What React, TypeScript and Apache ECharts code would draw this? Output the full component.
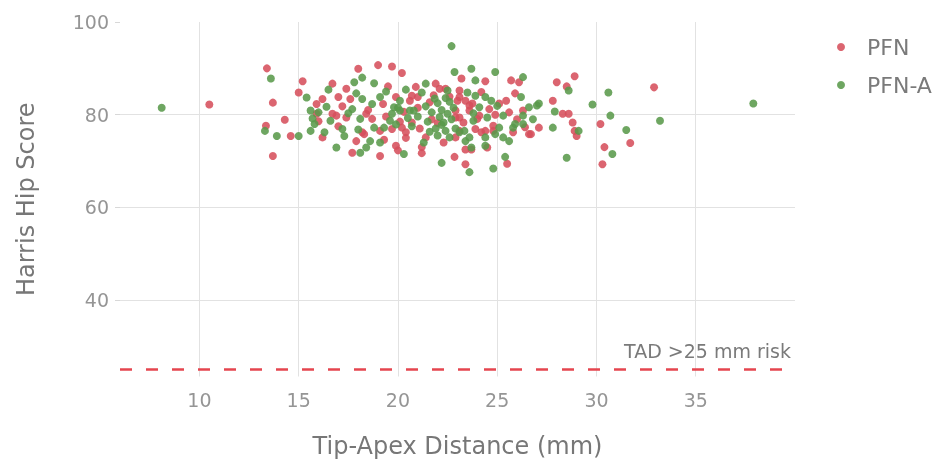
import React, { useEffect, useRef } from "react";
import * as echarts from "echarts";

const seriesNames = ["PFN", "PFN-A"];
const xAxisName = "Tip-Apex Distance (mm)";
const yAxisName = "Harris Hip Score";
const xTickValues = [10, 15, 20, 25, 30, 35];
const yTickValues = [40, 60, 80, 100];
const riskThreshold = 25;
const riskLabel = "TAD >25 mm risk";

const pfnPoints: [number, number][] = [
  [10.5, 82.2], [13.4, 90.0], [13.7, 82.6], [13.35, 77.6], [14.6, 75.4], [14.3, 78.9],
  [13.7, 71.1], [15.2, 87.2], [15.0, 84.8], [16.7, 86.7], [17.4, 85.6], [19.5, 86.1],
  [16.2, 83.4], [17.0, 83.8], [17.6, 83.4], [18.4, 80.2], [18.7, 79.1], [19.25, 82.3],
  [17.4, 79.4], [16.2, 75.1], [18.3, 75.8], [19.7, 76.9], [19.9, 83.8], [20.3, 80.6],
  [20.1, 78.5], [20.4, 76.2], [20.4, 75.0], [21.4, 75.1], [21.9, 86.7], [21.0, 83.8],
  [22.4, 85.6], [23.1, 85.2], [23.0, 83.0], [23.4, 83.0], [23.75, 82.4], [23.6, 80.9],
  [25.1, 82.4], [25.45, 83.0], [25.6, 80.5], [23.1, 79.4], [24.1, 79.8], [22.9, 75.1],
  [23.9, 76.9], [24.2, 76.2], [24.5, 72.9], [23.4, 72.5], [26.6, 75.8], [22.9, 80.9],
  [24.8, 77.6], [25.8, 76.2], [19.0, 90.7], [19.7, 90.4], [20.2, 89.0], [18.0, 89.9],
  [23.2, 87.8], [24.4, 87.2], [25.7, 87.4], [26.1, 87.0], [28.0, 87.0], [28.9, 88.3],
  [28.5, 86.1], [32.9, 85.9], [27.8, 83.0], [28.3, 80.2], [28.6, 80.2], [30.2, 78.0],
  [28.8, 78.3], [28.9, 76.5], [29.0, 75.4], [31.7, 73.9], [30.4, 73.0], [30.3, 69.3],
  [27.1, 77.2], [26.7, 75.8], [22.85, 70.9], [23.4, 69.3], [25.5, 69.4], [19.1, 71.1],
  [21.2, 73.0], [21.2, 71.7], [17.7, 71.8], [20.0, 72.3], [15.9, 82.3], [15.9, 80.2],
  [16.9, 79.8], [18.5, 81.0], [19.1, 76.5], [20.2, 77.2], [19.9, 73.3], [18.2, 76.2],
  [20.7, 84.1], [20.6, 83.0], [21.6, 82.7], [21.8, 84.2], [22.1, 85.6], [23.1, 83.8],
  [23.6, 82.0], [26.3, 80.9], [20.7, 78.3], [22.9, 79.4], [23.3, 78.3], [24.0, 79.1],
  [23.1, 76.5], [24.4, 76.5], [24.8, 76.5], [23.7, 72.5], [17.9, 74.3], [16.7, 80.2],
  [21.7, 79.0], [22.3, 74.0], [24.6, 81.2], [26.0, 79.0], [17.0, 77.5], [21.0, 81.5],
  [16.0, 78.6], [19.4, 79.6], [21.1, 77.0], [22.6, 83.9], [24.9, 80.0], [25.9, 84.6],
  [19.3, 74.6], [17.2, 81.8], [20.9, 86.0], [22.0, 78.2], [24.2, 84.9], [26.4, 77.3],
];

const pfnaPoints: [number, number][] = [
  [8.1, 81.5], [13.6, 87.8], [13.3, 76.5], [13.9, 75.4], [15.0, 75.4], [15.4, 83.7],
  [22.7, 94.8], [22.85, 89.2], [23.7, 89.9], [24.9, 89.2], [23.9, 87.4], [26.3, 88.1],
  [28.6, 85.2], [30.6, 84.8], [27.1, 82.4], [27.9, 80.7], [29.8, 82.2], [30.7, 79.8],
  [33.2, 78.7], [29.1, 76.5], [31.5, 76.7], [30.8, 71.5], [28.5, 70.7], [27.8, 77.2],
  [37.9, 82.4], [22.2, 69.6], [23.6, 67.6], [24.8, 68.4], [25.4, 70.9], [20.3, 71.5],
  [18.1, 71.8], [16.9, 72.9], [15.6, 76.5], [15.8, 78.0], [16.0, 80.5], [15.7, 79.2],
  [16.5, 85.4], [17.8, 87.0], [18.2, 88.0], [18.8, 86.8], [17.7, 81.2], [18.2, 83.4],
  [18.7, 82.3], [19.1, 83.8], [16.6, 78.7], [17.2, 76.9], [17.3, 75.4], [16.3, 76.2],
  [18.1, 79.1], [18.6, 74.3], [18.4, 72.9], [19.1, 74.0], [19.3, 77.2], [20.1, 83.0],
  [19.7, 80.2], [20.0, 81.5], [20.5, 79.3], [20.7, 77.5], [21.3, 74.0], [21.4, 86.7],
  [21.2, 84.8], [20.8, 80.9], [21.85, 83.5], [22.0, 82.5], [22.2, 81.0], [22.1, 79.5],
  [22.3, 78.3], [21.9, 77.0], [22.5, 80.2], [22.6, 82.8], [22.4, 76.5], [22.0, 75.5],
  [22.7, 79.0], [21.7, 80.5], [24.7, 83.0], [24.4, 83.8], [26.2, 83.8], [25.3, 79.8],
  [26.6, 81.6], [23.8, 78.7], [23.1, 76.2], [23.4, 74.3], [24.4, 75.1], [24.9, 75.8],
  [23.7, 72.9], [25.3, 75.1], [25.6, 74.3], [25.1, 77.2], [25.9, 78.0], [26.3, 79.8],
  [15.6, 80.9], [18.8, 77.2], [19.8, 81.6], [20.1, 80.9], [19.6, 78.7], [22.5, 85.2],
  [23.5, 84.8], [23.9, 84.1], [24.5, 79.4], [23.35, 76.5], [23.6, 75.1], [26.3, 78.0],
  [25.8, 77.2], [22.6, 75.1], [24.4, 73.3], [20.6, 80.9], [21.5, 78.5], [21.6, 76.3],
  [21.4, 81.8], [27.0, 82.0], [22.2, 77.8], [22.8, 81.5], [17.5, 80.3], [19.4, 85.0],
  [16.4, 81.7], [18.0, 76.8], [19.9, 77.9], [21.0, 79.6], [22.4, 83.6], [22.9, 77.0],
  [24.1, 81.6], [25.0, 81.9], [26.8, 79.0], [17.9, 84.6], [20.4, 85.4], [23.8, 80.3],
];

const FONT = "DejaVu Sans";

export default function App() {
  const ref = useRef<HTMLDivElement>(null);
  useEffect(() => {
    const chart = echarts.init(ref.current!, null, { renderer: "svg" });
    chart.setOption({
      animation: false,
      textStyle: { fontFamily: FONT },
      grid: { left: 120, right: 146, top: 22, bottom: 88.5, containLabel: false },
      legend: {
        orient: "vertical",
        left: 832,
        top: 31,
        itemWidth: 8,
        itemHeight: 8,
        itemGap: 16,
        icon: "circle",
        textStyle: { fontSize: 22, color: "#7a7a7a", fontFamily: FONT, lineHeight: 22, padding: [0, 0, 0, 17] },
        data: seriesNames,
      },
      xAxis: {
        type: "value",
        min: 6,
        max: 40,
        splitNumber: 7,
        name: xAxisName,
        nameLocation: "middle",
        nameGap: 57,
        nameTextStyle: { fontSize: 24, color: "#777777", fontFamily: FONT },
        axisLine: { show: false },
        axisTick: { show: false, customValues: xTickValues },
        axisLabel: { customValues: xTickValues, color: "#959595", fontSize: 19, margin: 14, fontFamily: FONT },
        splitLine: { show: true, lineStyle: { color: "#e2e2e2", width: 1 } },
      },
      yAxis: {
        type: "value",
        min: 23.5,
        max: 100,
        splitNumber: 4,
        name: yAxisName,
        nameLocation: "middle",
        nameGap: 82,
        nameTextStyle: { fontSize: 24, color: "#777777", fontFamily: FONT },
        axisLine: { show: false },
        axisTick: { show: true, length: 5, customValues: yTickValues, lineStyle: { color: "#d8d8d8" } },
        axisLabel: { customValues: yTickValues, color: "#959595", fontSize: 19, margin: 11, fontFamily: FONT },
        splitLine: { show: true, showMaxLine: false, lineStyle: { color: "#e2e2e2", width: 1 } },
      },
      series: [
        {
          name: seriesNames[0],
          type: "scatter",
          symbolSize: 8,
          itemStyle: { color: "#d6505c", opacity: 0.88 },
          data: pfnPoints,
          markLine: {
            silent: true,
            symbol: ["none", "none"],
            lineStyle: { color: "#e5454f", type: [12, 14], width: 2.5 },
            label: {
              show: true,
              position: "insideEndTop",
              formatter: riskLabel,
              color: "#7a7a7a",
              fontSize: 19,
              fontFamily: FONT,
              distance: [4, 9],
            },
            data: [{ yAxis: riskThreshold }],
          },
        },
        {
          name: seriesNames[1],
          type: "scatter",
          symbolSize: 8,
          itemStyle: { color: "#5a9a4b", opacity: 0.88 },
          data: pfnaPoints,
        },
      ],
    });
    return () => chart.dispose();
  }, []);
  return <div ref={ref} style={{ position: "fixed", left: 0, top: 0, width: 941, height: 465 }} />;
}
